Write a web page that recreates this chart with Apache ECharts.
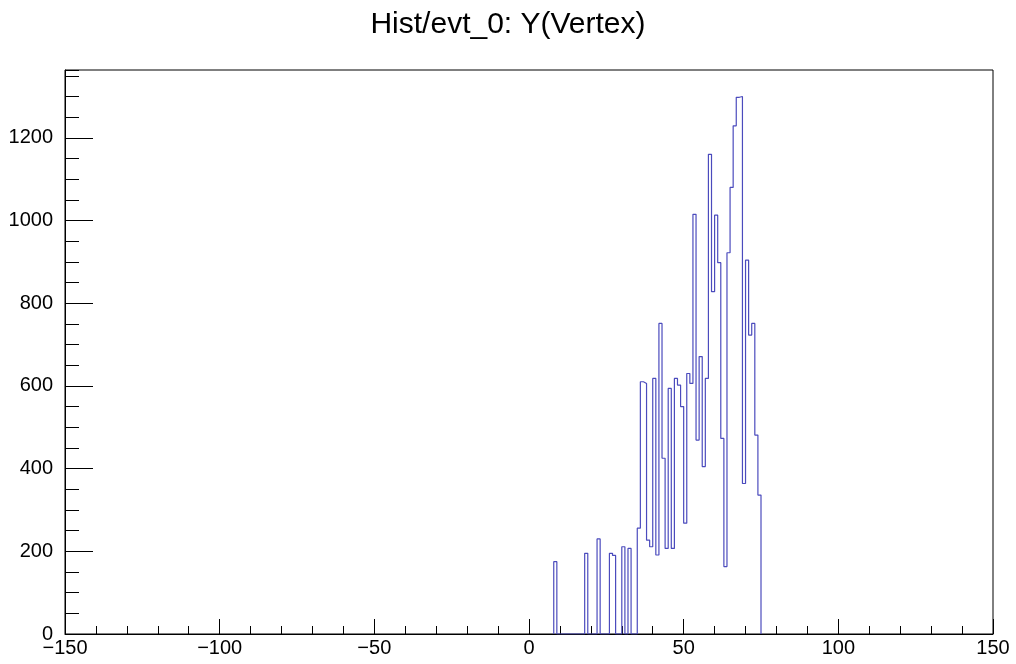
<!DOCTYPE html>
<html>
<head>
<meta charset="utf-8">
<script src="https://cdn.jsdelivr.net/npm/echarts@6/dist/echarts.min.js"></script>
<style>
  html, body { margin: 0; padding: 0; background: #fff; }
  #chart { width: 1016px; height: 664px; }
</style>
</head>
<body>
<div id="chart"></div>
<script>
// histogram: 1-unit bins, first non-empty bin starts at 8
const binStart = 8
const binWidth = 1
const counts = [
  175, 0, 0, 0, 0, 0, 0, 0, 0, 0,
  195, 0, 0, 0, 230, 0, 0, 0,
  195, 190, 0, 0, 211, 0, 207, 0, 0,
  256, 610, 606, 227, 211, 618, 191, 751, 425, 207,
  594, 207, 618, 602, 550, 268, 630, 606, 1015, 469,
  671, 405, 618, 1160, 828, 1013, 898, 473, 163, 922,
  1080, 1229, 1298, 1300, 364, 904, 723, 751, 481, 336
]
const xMin = -150
const xMax = 150
const yMax = 1364

// bin edges -> step points
const points = [[binStart, 0]]
counts.forEach((c, i) => {
  points.push([binStart + i * binWidth, c])
})
points.push([binStart + counts.length * binWidth, 0])

const chart = echarts.init(document.getElementById('chart'))
const font = 'Liberation Sans, Arial, sans-serif'
const plain = v => String(v).replace('-', '\u2212')

chart.setOption({
  animation: false,
  title: {
    text: 'Hist/evt_0: Y(Vertex)',
    left: 'center',
    top: 5,
    textStyle: { fontFamily: font, fontSize: 30, fontWeight: 'normal', color: '#000' }
  },
  grid: {
    left: 65, right: 23, top: 70, bottom: 30,
    show: true, borderColor: '#000', borderWidth: 1, backgroundColor: '#fff'
  },
  xAxis: {
    type: 'value',
    min: xMin,
    max: xMax,
    interval: 50,
    axisLine: { show: true, onZero: false, lineStyle: { color: '#000', width: 1 } },
    axisTick: { show: true, inside: true, length: 15, lineStyle: { color: '#000' } },
    minorTick: { show: true, splitNumber: 5, length: 8, lineStyle: { color: '#000' } },
    splitLine: { show: false },
    axisLabel: { margin: 4, fontFamily: font, fontSize: 20, color: '#000', formatter: plain }
  },
  yAxis: [
    {
      type: 'value',
      min: 0,
      max: yMax,
      interval: 200,
      axisLine: { show: true, onZero: false, lineStyle: { color: '#000', width: 1 } },
      axisTick: { show: true, inside: true, length: 28, lineStyle: { color: '#000' } },
      splitLine: { show: false },
      axisLabel: { margin: 12, showMaxLabel: false, fontFamily: font, fontSize: 20, color: '#000', formatter: plain }
    },
    {
      // minor ticks every 50
      type: 'value',
      position: 'left',
      min: 0,
      max: yMax,
      interval: 50,
      axisLine: { show: false, onZero: false },
      axisTick: { show: true, inside: true, length: 14, lineStyle: { color: '#000' } },
      splitLine: { show: false },
      axisLabel: { show: false }
    }
  ],
  series: [
    {
      type: 'line',
      step: 'end',
      data: points,
      showSymbol: false,
      lineStyle: { color: '#4b4bbd', width: 1.2 }
    }
  ]
})
</script>
</body>
</html>
